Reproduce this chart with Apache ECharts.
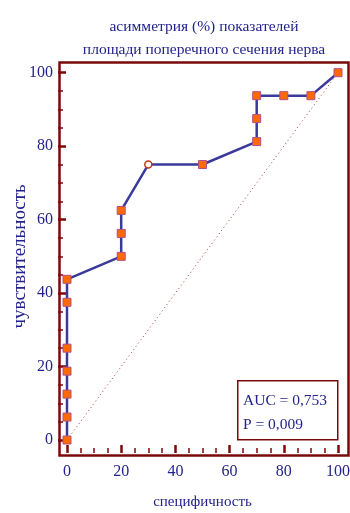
<!DOCTYPE html>
<html>
<head>
<meta charset="utf-8">
<script src="https://cdn.jsdelivr.net/npm/echarts@6/dist/echarts.min.js"></script>
<style>
  html, body { margin: 0; padding: 0; background: #fff; }
  #chart { width: 350px; height: 513px; }
</style>
</head>
<body>
<div id="chart"></div>
<script>
// ROC curve points (100 - специфичность, чувствительность)
var xVals = [0, 0, 0, 0, 0, 0, 0, 20, 20, 20, 30, 50, 70, 70, 70, 80, 90, 100];
var yVals = [0, 6.25, 12.5, 18.75, 25, 37.5, 43.75, 50, 56.25, 62.5, 75, 75, 81.25, 87.5, 93.75, 93.75, 93.75, 100];
var hollowIndex = 10; // this point is drawn as an open circle
var diagX = [0, 100];
var diagY = [0, 100];
var aucText = ["AUC = 0,753", "P = 0,009"];

var navy = "#23238c";
var frame = "#7a0a0a";
var serif = "Liberation Serif";

var chart = echarts.init(document.getElementById("chart"));

var rocData = xVals.map(function (x, i) {
  var d = { value: [x, yVals[i]] };
  if (i === hollowIndex) {
    d.symbol = "circle";
    d.symbolSize = 7;
    d.itemStyle = { color: "#ffffff", borderColor: "#c23a1a", borderWidth: 1.5 };
  }
  return d;
});

// axis sits on the frame line, a few px outside the 0..100 data box
function makeAxis(isX) {
  return {
    type: "value",
    min: 0,
    max: 100,
    interval: 20,
    offset: isX ? 13 : 9,
    splitLine: { show: false },
    axisLine: { show: false, onZero: false },
    axisTick: { show: true, inside: true, length: 8, lineStyle: { color: frame, width: 2.5 } },
    minorTick: { show: true, splitNumber: 4, length: 5, lineStyle: { color: frame, width: 1.5 } },
    axisLabel: isX
      ? { color: navy, fontFamily: serif, fontSize: 16, margin: 11 }
      : { color: navy, fontFamily: serif, fontSize: 16, margin: 5, padding: [8, 0, 0, 0] },
    name: isX ? "специфичность" : "чувствительность",
    nameLocation: "middle",
    nameGap: isX ? 42 : 28,
    nameMoveOverlap: false,
    nameTextStyle: { color: navy, fontFamily: serif, fontSize: isX ? 15 : 19 }
  };
}

chart.setOption({
  animation: false,
  backgroundColor: "#ffffff",
  title: {
    text: "асимметрия (%) показателей\nплощади поперечного сечения нерва",
    left: 199,
    textAlign: "center",
    top: 10,
    textStyle: { color: navy, fontFamily: serif, fontSize: 15.5, fontWeight: "normal", lineHeight: 23 }
  },
  grid: {
    left: 67, top: 72.7, width: 271, height: 367.3,
    outerBoundsMode: "none"
  },
  xAxis: makeAxis(true),
  yAxis: makeAxis(false),
  series: [
    {
      type: "line",
      data: diagX.map(function (x, i) { return [x, diagY[i]]; }),
      showSymbol: false,
      lineStyle: { color: "#a8383a", width: 1, type: [1, 3] },
      silent: true,
      z: 1
    },
    {
      type: "line",
      data: rocData,
      symbol: "rect",
      symbolSize: 8,
      lineStyle: { color: "#3a3a9c", width: 2.5 },
      itemStyle: { color: "#ff6a00", borderColor: "#b0508a", borderWidth: 1 },
      z: 3
    }
  ],
  graphic: [
    {
      // plot frame
      type: "rect",
      left: 57, top: 60,
      shape: { width: 289, height: 393 },
      style: { fill: "none", stroke: frame, lineWidth: 2.5 },
      silent: true,
      z: 0
    },
    {
      type: "rect",
      left: 237, top: 380,
      shape: { width: 100, height: 59 },
      style: { fill: "#ffffff", stroke: frame, lineWidth: 1.5 },
      z: 10
    },
    {
      type: "text",
      left: 243, top: 389,
      style: { text: aucText.join("\n"), fill: navy, font: "15.5px 'Liberation Serif'", lineHeight: 24 },
      z: 11
    }
  ]
});
</script>
</body>
</html>
